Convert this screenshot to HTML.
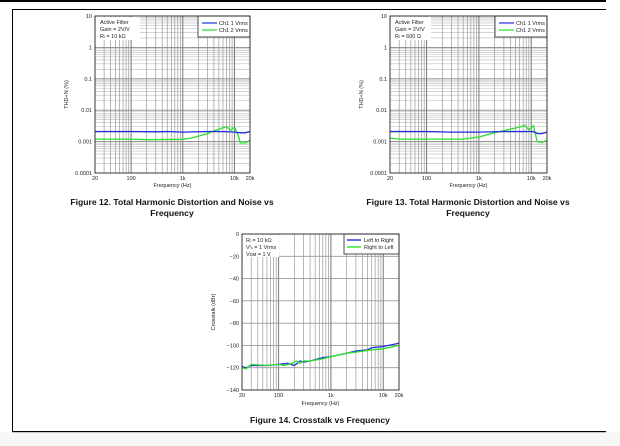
<!DOCTYPE html>
<html><head><meta charset="utf-8"><style>
html,body{margin:0;padding:0;background:#f7f7f7;}
#w{position:relative;width:620px;height:446px;overflow:hidden;background:#f7f7f7;}
svg{position:absolute;left:0;top:0;}
text{font-family:"Liberation Sans",sans-serif;}
</style></head><body><div id="w">
<svg id="s" width="620" height="446" xmlns="http://www.w3.org/2000/svg">
<rect x="0" y="0" width="620" height="432" fill="#fff"/>
<rect x="0" y="0" width="606" height="2" fill="#000"/>
<path d="M12.5,432 V9.5 H606" fill="none" stroke="#000" stroke-width="1"/>
<rect x="12" y="431" width="594" height="1.2" fill="#000"/>
<g font-weight="bold" font-size="8.6" text-anchor="middle" fill="#111">
<text x="172" y="205">Figure 12. Total Harmonic Distortion and Noise vs</text>
<text x="172" y="216">Frequency</text>
<text x="468" y="205">Figure 13. Total Harmonic Distortion and Noise vs</text>
<text x="468" y="216">Frequency</text>
<text x="320" y="423">Figure 14. Crosstalk vs Frequency</text>
</g>
</svg>
<script>
var s=document.getElementById('s');var NS='http://www.w3.org/2000/svg';
function el(t,a,txt){var e=document.createElementNS(NS,t);for(var k in a)e.setAttribute(k,a[k]);if(txt)e.textContent=txt;s.appendChild(e);return e;}
function lx(f,x0,x1){return x0+(Math.log10(f)-Math.log10(20))/3*(x1-x0);}
function thd(x0,x1,y0,y1,ann,blue,green){
 var dy=(y1-y0)/5;
 function ly(v){return y0+(1-Math.log10(v))*dy;}
 el('rect',{x:x0,y:y0,width:x1-x0,height:y1-y0,fill:'#fff'});
 for(var d=-4;d<1;d++)for(var m=2;m<10;m++){var y=ly(m*Math.pow(10,d));el('line',{x1:x0,x2:x1,y1:y,y2:y,stroke:'#bbb','stroke-width':0.6});}
 var fs=[];for(var d=1;d<5;d++)for(var m=1;m<10;m++){var f=m*Math.pow(10,d);if(f>20&&f<20000)fs.push(f);}
 fs.forEach(function(f){var x=lx(f,x0,x1);var maj=(f==100||f==1000||f==10000);el('line',{x1:x,x2:x,y1:y0,y2:y1,stroke:maj?'#777':'#999','stroke-width':maj?1:0.7});});
 for(var d=-3;d<1;d++){var y=ly(Math.pow(10,d));el('line',{x1:x0,x2:x1,y1:y,y2:y,stroke:'#888','stroke-width':0.9});}
 ['10','1','0.1','0.01','0.001','0.0001'].forEach(function(t,i){el('text',{x:x0-3,y:y0+i*dy+2,'font-size':5.5,'text-anchor':'end',fill:'#222'},t);});
 [[20,'20'],[100,'100'],[1000,'1k'],[10000,'10k'],[20000,'20k']].forEach(function(p){el('text',{x:lx(p[0],x0,x1),y:y1+7,'font-size':5.5,'text-anchor':'middle',fill:'#222'},p[1]);});
 el('text',{x:(x0+x1)/2,y:y1+14,'font-size':5.5,'text-anchor':'middle',fill:'#222'},'Frequency (Hz)');
 el('text',{x:0,y:0,'font-size':5.5,'text-anchor':'middle',fill:'#222',transform:'translate('+(x0-27)+','+((y0+y1)/2)+') rotate(-90)'},'THD+N (%)');
 el('rect',{x:x0+1,y:y0+1,width:ann,height:23,fill:'#fff'});
 ['Active Filter','Gain = 2V/V',x0>300?'R\u2097 = 600 \u03a9':'R\u2097 = 10 k\u03a9'].forEach(function(t,i){el('text',{x:x0+5,y:y0+8+i*7,'font-size':5.5,fill:'#222'},t);});
 el('rect',{x:x1-52,y:y0,width:52,height:21,fill:'#fff',stroke:'#222','stroke-width':0.8});
 el('line',{x1:x1-48,x2:x1-33,y1:y0+7,y2:y0+7,stroke:'#1f2fe0','stroke-width':1.2});
 el('line',{x1:x1-48,x2:x1-33,y1:y0+14,y2:y0+14,stroke:'#2be02b','stroke-width':1.2});
 el('text',{x:x1-31,y:y0+9,'font-size':5.5,fill:'#222'},'Ch1 1 Vrms');
 el('text',{x:x1-31,y:y0+16,'font-size':5.5,fill:'#222'},'Ch1 2 Vrms');
 function path(d,c){el('path',{d:'M'+d.map(function(p){return lx(p[0],x0,x1).toFixed(1)+','+ly(p[1]).toFixed(1);}).join('L'),fill:'none',stroke:c,'stroke-width':1.3});}
 path(green,'#2be02b');path(blue,'#1f2fe0');
 el('rect',{x:x0,y:y0,width:x1-x0,height:y1-y0,fill:'none',stroke:'#222','stroke-width':0.9});
}
thd(95,250,16,173,44,
 [[20,0.0021],[100,0.0021],[300,0.00205],[500,0.0021],[1000,0.002],[3000,0.0021],[6000,0.0021],[10000,0.002],[13000,0.0019],[16000,0.0019],[20000,0.0021]],
 [[20,0.0012],[100,0.0012],[200,0.00115],[1000,0.00118],[1500,0.0013],[3000,0.0018],[5000,0.0025],[7000,0.003],[8500,0.0023],[10000,0.0029],[12000,0.0015],[13000,0.0009],[16000,0.0009],[20000,0.0011]]);
thd(390,547,16,173,40,
 [[20,0.0021],[100,0.0021],[300,0.002],[1000,0.002],[3000,0.0021],[8000,0.0021],[11000,0.0021],[13000,0.0018],[16000,0.0018],[20000,0.002]],
 [[20,0.0013],[30,0.0012],[100,0.0012],[500,0.0012],[1000,0.0014],[2000,0.0019],[4000,0.0025],[6000,0.0029],[7500,0.0033],[9000,0.0024],[11000,0.0032],[13000,0.001],[16000,0.00095],[20000,0.0011]]);
(function(){var x0=242,x1=399,y0=234,y1=390;function ly(v){return y0+(-v)/140*(y1-y0);}
 el('rect',{x:x0,y:y0,width:x1-x0,height:y1-y0,fill:'#fff'});
 var fs=[];for(var d=1;d<5;d++)for(var m=1;m<10;m++){var f=m*Math.pow(10,d);if(f>20&&f<20000)fs.push(f);}
 fs.forEach(function(f){var x=lx(f,x0,x1);var maj=(f==100||f==1000||f==10000);el('line',{x1:x,x2:x,y1:y0,y2:y1,stroke:maj?'#777':'#999','stroke-width':maj?1:0.7});});
 for(var v=-20;v>-140;v-=20){var y=ly(v);el('line',{x1:x0,x2:x1,y1:y,y2:y,stroke:'#999','stroke-width':0.9});}
 for(var v=0;v>=-140;v-=20)el('text',{x:x0-3,y:ly(v)+2,'font-size':5.5,'text-anchor':'end',fill:'#222'},v==0?'0':'\u2212'+(-v));
 [[20,'20'],[100,'100'],[1000,'1k'],[10000,'10k'],[20000,'20k']].forEach(function(p){el('text',{x:lx(p[0],x0,x1),y:y1+7,'font-size':5.5,'text-anchor':'middle',fill:'#222'},p[1]);});
 el('text',{x:(x0+x1)/2,y:y1+15,'font-size':5.5,'text-anchor':'middle',fill:'#222'},'Frequency (Hz)');
 el('text',{x:0,y:0,'font-size':5.5,'text-anchor':'middle',fill:'#222',transform:'translate('+(x0-27)+','+((y0+y1)/2)+') rotate(-90)'},'Crosstalk (dBr)');
 el('rect',{x:x0+1,y:y0+1,width:36,height:22,fill:'#fff'});
 ['R\u2097 = 10 k\u03a9','V\u1d35\u2099 = 1 Vrms','V\u1d04\u1d0d = 1 V'].forEach(function(t,i){el('text',{x:x0+4,y:y0+8+i*7,'font-size':5.5,fill:'#222'},t);});
 el('rect',{x:x1-55,y:y0,width:55,height:20,fill:'#fff',stroke:'#222','stroke-width':0.8});
 el('line',{x1:x1-52,x2:x1-38,y1:y0+6,y2:y0+6,stroke:'#1f2fe0','stroke-width':1.4});
 el('line',{x1:x1-52,x2:x1-38,y1:y0+13,y2:y0+13,stroke:'#2be02b','stroke-width':1.4});
 el('text',{x:x1-35,y:y0+8,'font-size':5.5,fill:'#222'},'Left to Right');
 el('text',{x:x1-35,y:y0+15,'font-size':5.5,fill:'#222'},'Right to Left');
 function path(d,c){el('path',{d:'M'+d.map(function(p){return lx(p[0],x0,x1).toFixed(1)+','+ly(p[1]).toFixed(1);}).join('L'),fill:'none',stroke:c,'stroke-width':1.3});}
 path([[20,-119],[24,-120],[30,-118],[60,-118],[100,-117],[150,-116],[200,-118],[260,-114],[300,-115],[400,-114],[700,-111],[1000,-110],[2000,-107],[3000,-105],[5000,-104],[6000,-102],[10000,-101],[20000,-98]],'#1f2fe0');
 path([[20,-120],[24,-121],[30,-117],[60,-118],[100,-117],[130,-118],[180,-116],[220,-114],[260,-116],[300,-114],[400,-114],[700,-112],[1000,-110],[2000,-107],[3000,-106],[6000,-104],[10000,-103],[20000,-100]],'#2be02b');
 el('rect',{x:x0,y:y0,width:x1-x0,height:y1-y0,fill:'none',stroke:'#222','stroke-width':0.9});
})();
</script>
</div></body></html>
